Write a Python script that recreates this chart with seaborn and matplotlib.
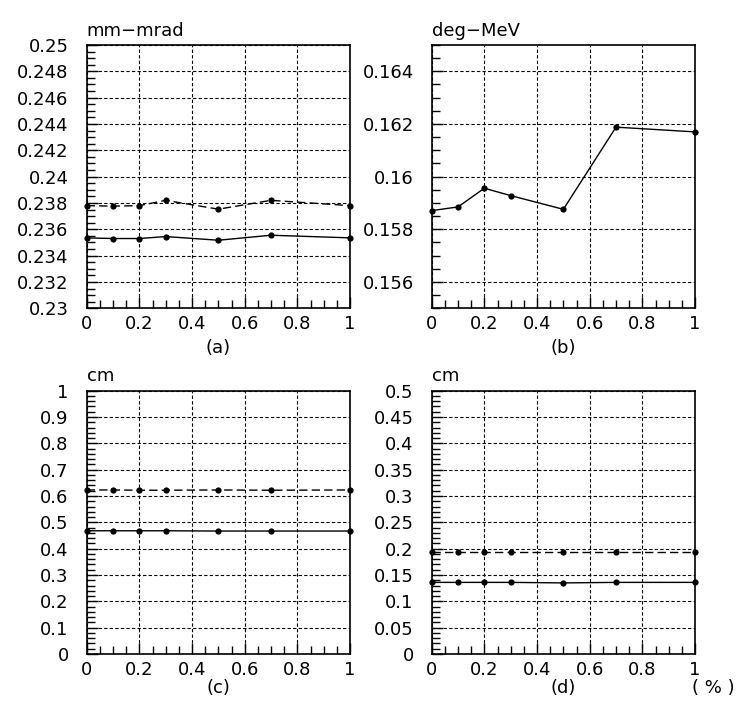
import matplotlib
matplotlib.use("Agg")
import matplotlib.pyplot as plt
import seaborn as sns
import pandas as pd
import numpy as np
from matplotlib.ticker import MultipleLocator, FuncFormatter

sns.set_style("white")
plt.rcParams['font.family'] = ['DejaVu Sans']
plt.rcParams['text.color'] = 'black'
plt.rcParams['xtick.color'] = 'black'
plt.rcParams['ytick.color'] = 'black'

x_vals = [0.0, 0.1, 0.2, 0.3, 0.5, 0.7, 1.0]

# (a) emittance, mm-mrad
a_dashed = [0.2378, 0.23776, 0.2378, 0.2382, 0.23753, 0.2382, 0.2378]
a_solid = [0.23535, 0.2353, 0.2353, 0.23545, 0.23517, 0.23555, 0.23535]
# (b) deg-MeV
b_solid = [0.15871, 0.15885, 0.15956, 0.15928, 0.15876, 0.16188, 0.16170]
# (c) cm
c_dashed = [0.623, 0.623, 0.622, 0.622, 0.623, 0.622, 0.623]
c_solid = [0.468, 0.468, 0.468, 0.468, 0.467, 0.467, 0.467]
# (d) cm
d_dashed = [0.193, 0.193, 0.193, 0.193, 0.193, 0.193, 0.193]
d_solid = [0.136, 0.136, 0.136, 0.136, 0.135, 0.136, 0.136]

units = ["mm\u2212mrad", "deg\u2212MeV", "cm", "cm"]
panel_labels = ["(a)", "(b)", "(c)", "(d)"]
ylims = [(0.23, 0.25), (0.155, 0.165), (0.0, 1.0), (0.0, 0.5)]
ymajor = [0.002, 0.002, 0.1, 0.05]
yminor = [0.0005, 0.0005, 0.02, 0.01]

series = [
    [("dashed", a_dashed), ("solid", a_solid)],
    [("solid", b_solid)],
    [("dashed", c_dashed), ("solid", c_solid)],
    [("dashed", d_dashed), ("solid", d_solid)],
]

W, H = 751, 728
fig = plt.figure(figsize=(W / 100, H / 100), dpi=100)

lefts = [86.7, 431.7, 86.7, 431.7]
tops = [45, 45, 390.7, 390.7]
label_y = [-0.152, -0.152, -0.13, -0.13]
aw, ah = 263.3, 263.3

fmt = FuncFormatter(lambda v, p: f"{round(v, 6):g}")

for i in range(4):
    l, t = lefts[i], tops[i]
    ax = fig.add_axes([l / W, (H - t - ah) / H, aw / W, ah / H])
    for style, vals in series[i]:
        df = pd.DataFrame({"x": x_vals, "y": vals})
        sns.lineplot(data=df, x="x", y="y", ax=ax, color="black", lw=1.0,
                     marker="o", markersize=4.5, markeredgewidth=0,
                     linestyle=(0, (6, 3)) if style == "dashed" else "-",
                     clip_on=False)
    ax.set_xlim(0, 1)
    ax.set_ylim(*ylims[i])
    ax.xaxis.set_major_locator(MultipleLocator(0.2))
    ax.xaxis.set_minor_locator(MultipleLocator(0.05))
    ax.yaxis.set_major_locator(MultipleLocator(ymajor[i]))
    ax.yaxis.set_minor_locator(MultipleLocator(yminor[i]))
    ax.xaxis.set_major_formatter(fmt)
    ax.yaxis.set_major_formatter(fmt)
    ax.tick_params(which="both", direction="in", top=False, right=False,
                   left=True, bottom=True, color="black", width=1.0,
                   labelsize=13, labelcolor="black")
    ax.tick_params(which="major", length=8, pad=6)
    ax.tick_params(which="minor", length=6)
    ax.tick_params(axis="y", which="major", pad=13)
    ax.tick_params(axis="x", which="major", pad=5)
    ax.grid(True, which="major", color="black", linestyle=(0, (3, 2)), lw=0.8)
    for s in ax.spines.values():
        s.set_color("black")
        s.set_linewidth(1.2)
    ax.set_xlabel("")
    ax.set_ylabel("")
    ax.text(0.0, 1.02, units[i], transform=ax.transAxes, ha="left", va="bottom",
            fontsize=13, color="black")
    ax.text(0.5, label_y[i], panel_labels[i], transform=ax.transAxes,
            ha="center", va="center", fontsize=13, color="black")
    if i == 3:
        ax.text(0.99, label_y[i], "( % )", transform=ax.transAxes, ha="left",
                va="center", fontsize=13, color="black")

fig.savefig("out.png", dpi=100, facecolor="white")
